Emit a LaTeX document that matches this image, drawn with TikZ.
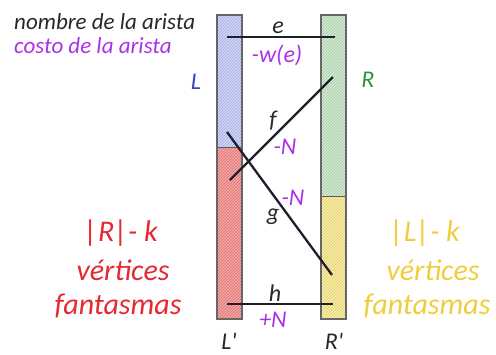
\documentclass[tikz,border=0pt]{standalone}
\usepackage{fontspec}
\setmainfont{Carlito}[Ligatures=TeXOff]
\usetikzlibrary{patterns}
\definecolor{txt}{RGB}{40,40,40}
\definecolor{purp}{RGB}{170,50,230}
\definecolor{lblue}{RGB}{50,70,190}
\definecolor{lgreen}{RGB}{40,150,60}
\definecolor{lred}{RGB}{230,40,50}
\definecolor{lyel}{RGB}{240,205,60}
\definecolor{fblue}{RGB}{208,214,245}
\definecolor{pblue}{RGB}{160,170,225}
\definecolor{fred}{RGB}{245,165,165}
\definecolor{pred}{RGB}{220,110,110}
\definecolor{fgreen}{RGB}{212,234,212}
\definecolor{pgreen}{RGB}{160,200,160}
\definecolor{fyel}{RGB}{250,240,165}
\definecolor{pyel}{RGB}{220,200,110}
\definecolor{edgec}{RGB}{30,30,45}
\begin{document}
\begin{tikzpicture}[x=1pt,y=-1pt,
  lbl/.style={font=\fontsize{24}{28}\selectfont\itshape, inner sep=0pt},
  leg/.style={font=\fontsize{23}{27}\selectfont\itshape, inner sep=0pt, anchor=west},
  big/.style={font=\fontsize{30}{34}\selectfont\itshape, inner sep=0pt},
  part/.style={postaction={pattern=north east lines, pattern color=#1}},
  barborder/.style={draw=gray!80!black, line width=1.2pt},
  edgeline/.style={draw=edgec, line width=2.3pt}]
\useasboundingbox (0,0) rectangle (496,354);
% bars
\fill[fblue, part=pblue] (217,15) rectangle (242,147);
\fill[fred, part=pred] (217,147) rectangle (242,319);
\draw[gray!70!black, line width=0.8pt] (217,147) -- (242,147);
\fill[fgreen, part=pgreen] (321,15) rectangle (346,196);
\fill[fyel, part=pyel] (321,196) rectangle (346,319);
\draw[gray!70!black, line width=0.8pt] (321,196) -- (346,196);
\draw[barborder] (217,15) rectangle (242,319);
\draw[barborder] (321,15) rectangle (346,319);
% endpoints
\coordinate (e1) at (227,37);
\coordinate (e2) at (335,37);
\coordinate (f1) at (230,180);
\coordinate (f2) at (333,77);
\coordinate (g1) at (227,132);
\coordinate (g2) at (332,275);
\coordinate (h1) at (227,304);
\coordinate (h2) at (333,304);
\draw[edgeline] (e1) -- (e2);
\draw[edgeline] (f1) -- (f2);
\draw[edgeline] (g1) -- (g2);
\draw[edgeline] (h1) -- (h2);
% legend
\node[leg, text=txt] (leg1) at (14,22) {nombre de la arista};
\node[leg, text=purp] (leg2) at (14,46) {costo de la arista};
% side labels
\node[lbl, text=lblue] (Llab) at (196,82) {L};
\node[lbl, text=lgreen] (Rlab) at (368,80) {R};
\node[lbl, text=txt, anchor=base] (Lp) at (229,349) {L'};
\node[lbl, text=txt, anchor=base] (Rp) at (334,349) {R'};
% edge labels
\node[lbl, text=txt] (elab) at (278,28) {e};
\node[lbl, text=purp] (ecost) at (277,55) {-w(e)};
\node[lbl, text=txt] (flab) at (273,121) {f};
\node[lbl, text=purp] (fcost) at (285,147) {-N};
\node[lbl, text=purp] (gcost) at (293,198) {-N};
\node[lbl, text=txt] (glab) at (273,217) {g};
\node[lbl, text=txt] (hlab) at (275,293) {h};
\node[lbl, text=purp] (hcost) at (273,320) {+N};
% ghost vertex texts
\node[big, text=lred] (lt1) at (121,233) {|R|- k};
\node[big, text=lred] (lt2) at (123,270) {vértices};
\node[big, text=lred] (lt3) at (118,306) {fantasmas};
\node[big, text=lyel] (rt1) at (425,233) {|L|- k};
\node[big, text=lyel] (rt2) at (433,270) {vértices};
\node[big, text=lyel] (rt3) at (427,306) {fantasmas};
\end{tikzpicture}
\end{document}
